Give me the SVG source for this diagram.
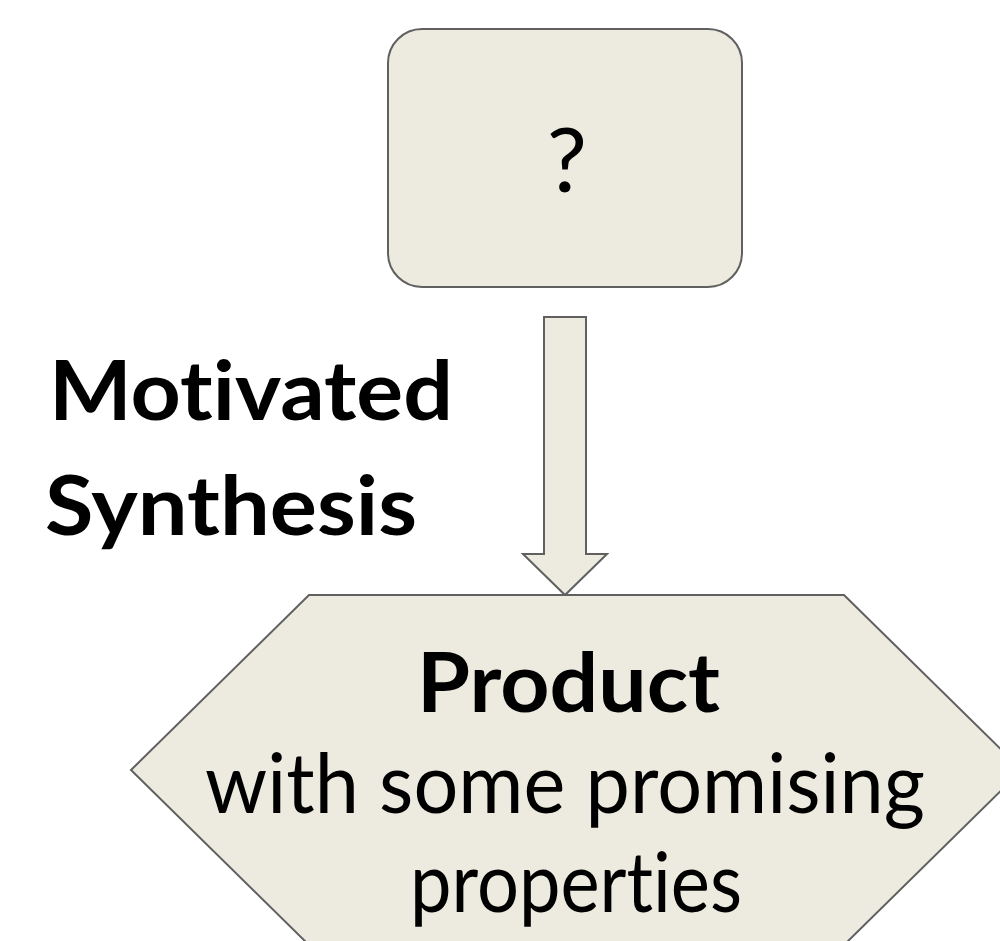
<svg xmlns="http://www.w3.org/2000/svg" width="1000" height="941" viewBox="0 0 1000 941">
<style>
.shape{fill:#EDEBE0;stroke:#606060;stroke-width:2}
.t{font-family:Lato,"Open Sans",sans-serif;fill:#000;text-anchor:middle;font-variant-ligatures:none;font-feature-settings:"liga" 0,"clig" 0}
.b{font-weight:bold}
</style>
<rect width="1000" height="941" fill="#fff"/>
<g id="connectors">
<polygon class="shape" points="544,317 586,317 586,554 607,554 565,595 523,554 544,554"/>
</g>
<g id="node-question">
<rect class="shape" x="388" y="29" width="354" height="258" rx="34" ry="34"/>
<text class="t" x="567" y="192" font-size="90">?</text>
</g>
<g id="node-product">
<polygon class="shape" points="309,595 844,595 1022,770 844,945 309,945 131,770"/>
<text class="t b" x="568.5" y="712" font-size="82" textLength="303" lengthAdjust="spacingAndGlyphs">Product</text>
<text class="t" x="565" y="813" font-size="83" textLength="720" lengthAdjust="spacingAndGlyphs">with some promising</text>
<text class="t" x="576" y="912" font-size="83" textLength="332" lengthAdjust="spacingAndGlyphs">properties</text>
</g>
<g id="label-motivated">
<text class="t b" x="251" y="420" font-size="82" textLength="404" lengthAdjust="spacingAndGlyphs">Motivated</text>
<text class="t b" x="231" y="535" font-size="82" textLength="372" lengthAdjust="spacingAndGlyphs">Synthesis</text>
</g>
</svg>
